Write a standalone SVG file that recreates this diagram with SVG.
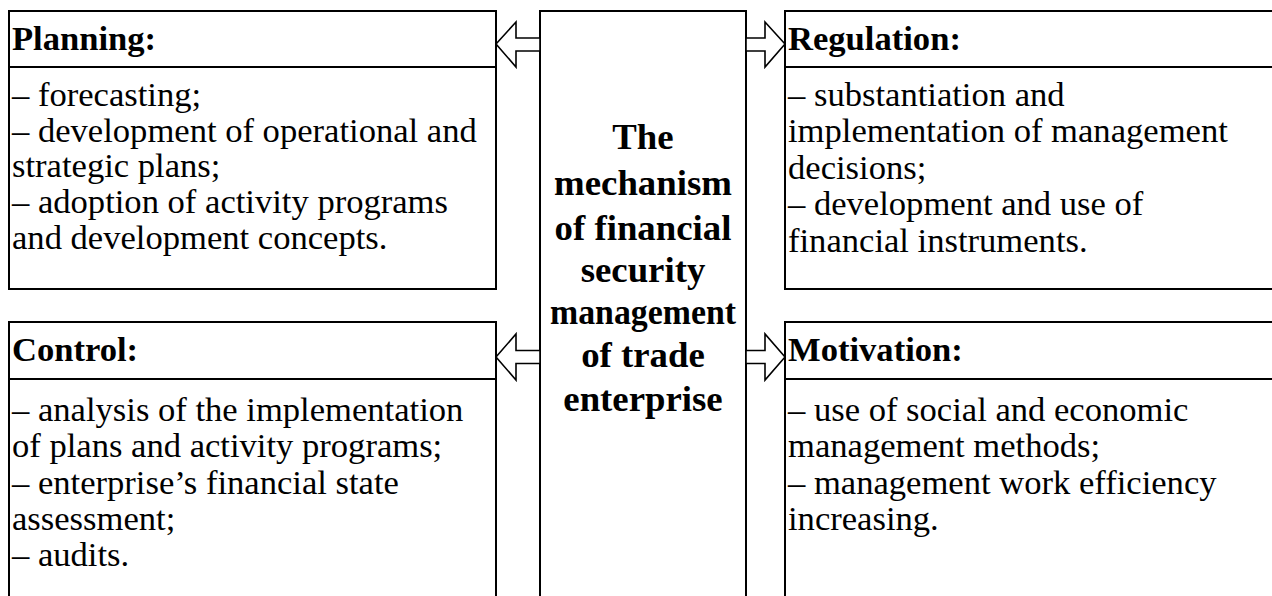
<svg xmlns="http://www.w3.org/2000/svg" width="1272" height="596" viewBox="0 0 1272 596">
<style>
.box{fill:#fff;stroke:#000;stroke-width:2}
.line{stroke:#000;stroke-width:2}
.arrow{fill:#fff;stroke:#000;stroke-width:1.6;stroke-linejoin:miter}
text{font-family:'Liberation Serif','Times New Roman',Times,'DejaVu Serif',serif;fill:#000}
.t{font-size:34.6px}
.h{font-size:34.6px;font-weight:bold}
.c{font-size:36.8px;font-weight:bold;text-anchor:middle}
</style>
<rect x="0" y="0" width="1272" height="596" fill="#fff"/>
<g id="planning">
<rect class="box" x="9" y="11" width="487" height="278"/>
<line class="line" x1="9" y1="67" x2="496" y2="67"/>
<text class="h" x="12" y="50">Planning:</text>
<text class="t" x="12" y="106">– forecasting;</text>
<text class="t" x="12" y="141.5">– development of operational and</text>
<text class="t" x="12" y="177">strategic plans;</text>
<text class="t" x="12" y="212.5">– adoption of activity programs</text>
<text class="t" x="12" y="248.5">and development concepts.</text>
</g>
<g id="control">
<rect class="box" x="9" y="322" width="487" height="290"/>
<line class="line" x1="9" y1="379" x2="496" y2="379"/>
<text class="h" x="12" y="361">Control:</text>
<text class="t" x="12" y="421">– analysis of the implementation</text>
<text class="t" x="12" y="457">of plans and activity programs;</text>
<text class="t" x="12" y="493.5">– enterprise’s financial state</text>
<text class="t" x="12" y="530">assessment;</text>
<text class="t" x="12" y="566">– audits.</text>
</g>
<g id="mechanism">
<rect class="box" x="540" y="11" width="206" height="600"/>
<text class="c" x="643" y="149">The</text>
<text class="c" x="643" y="195">mechanism</text>
<text class="c" x="643" y="240">of financial</text>
<text class="c" x="643" y="282">security</text>
<text class="c" x="643" y="324" textLength="186" lengthAdjust="spacingAndGlyphs">management</text>
<text class="c" x="643" y="367">of trade</text>
<text class="c" x="643" y="411">enterprise</text>
</g>
<g id="regulation">
<rect class="box" x="785" y="11" width="500" height="278"/>
<line class="line" x1="785" y1="67" x2="1272" y2="67"/>
<text class="h" x="788" y="50">Regulation:</text>
<text class="t" x="788" y="105.5">– substantiation and</text>
<text class="t" x="788" y="142">implementation of management</text>
<text class="t" x="788" y="178.5">decisions;</text>
<text class="t" x="788" y="215">– development and use of</text>
<text class="t" x="788" y="251.5">financial instruments.</text>
</g>
<g id="motivation">
<rect class="box" x="785" y="322" width="500" height="290"/>
<line class="line" x1="785" y1="379" x2="1272" y2="379"/>
<text class="h" x="788" y="361">Motivation:</text>
<text class="t" x="788" y="421">– use of social and economic</text>
<text class="t" x="788" y="457">management methods;</text>
<text class="t" x="788" y="493.5">– management work efficiency</text>
<text class="t" x="788" y="530">increasing.</text>
</g>
<g id="connectors">
<polygon class="arrow" points="540,38 516,38 516,22 496,44 516,67 516,51 540,51"/>
<polygon class="arrow" points="746,38 765,38 765,22 785,44 765,67 765,51 746,51"/>
<polygon class="arrow" points="540,350.5 516,350.5 516,334 496,357 516,380 516,363.5 540,363.5"/>
<polygon class="arrow" points="746,350.5 765,350.5 765,334 785,357 765,380 765,363.5 746,363.5"/>
</g>
</svg>
